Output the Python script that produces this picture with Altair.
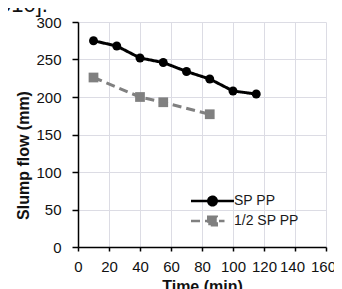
import altair as alt
import pandas as pd

# ---- data ----
series_names = ["SP PP", "1/2 SP PP"]
series_colors = ["#000000", "#808080"]

sp_time = [10, 25, 40, 55, 70, 85, 100, 115]
sp_flow = [275, 268, 252, 246, 234, 224, 208, 204]

half_time = [10, 40, 55, 85]
half_flow = [226, 200, 193, 177]

x_ticks = [0, 20, 40, 60, 80, 100, 120, 140, 160]
y_ticks = [0, 50, 100, 150, 200, 250, 300]

caption_fragment = ["010]."]

df = pd.DataFrame({
    "time": sp_time + half_time,
    "flow": sp_flow + half_flow,
    "series": [series_names[0]] * len(sp_time) + [series_names[1]] * len(half_time),
})

FONT = "Liberation Sans"
GRID = "#dcdce4"

x_enc = alt.X(
    "time:Q",
    scale=alt.Scale(domain=[0, 160], nice=False),
    axis=alt.Axis(
        values=x_ticks, title="Time (min)", tickSize=4, labelPadding=8,
        labelFontSize=15, labelFont=FONT, labelColor="#111111",
        labelOverlap=False, labelFlush=False,
        labelOffset={"condition": {"test": f"datum.value >= {x_ticks[-2]}", "value": -3}, "value": 0},
        titleFontSize=16, titleFont=FONT, titleFontWeight="bold", titleColor="#111111",
        titleBaseline="alphabetic", titleY=44,
        grid=True, gridColor=GRID, gridWidth=1,
        domainColor="#000000", domainWidth=1.5, tickColor="#000000", tickWidth=1.5,
    ),
)
y_enc = alt.Y(
    "flow:Q",
    scale=alt.Scale(domain=[0, 300], nice=False),
    axis=alt.Axis(
        values=y_ticks, title="Slump flow (mm)", tickSize=6, labelPadding=11,
        labelFontSize=15, labelFont=FONT, labelColor="#111111",
        labelOverlap=False, labelFlush=False,
        titleFontSize=16, titleFont=FONT, titleFontWeight="bold", titleColor="#111111",
        titleBaseline="alphabetic", titleX=-49.5, titleY=133,
        grid=True, gridColor=GRID, gridWidth=1,
        domainColor="#000000", domainWidth=1.5, tickColor="#000000", tickWidth=1.5,
    ),
)

circle_path = ("M-4.3,0L4.3,0M0.85,0A0.85,0.85 0 1 1 -0.85,0"
               "A0.85,0.85 0 1 1 0.85,0Z")
square_path = "M-4.3,0L2.4,0M-0.85,-0.85L0.85,-0.85L0.85,0.85L-0.85,0.85Z"

is_first = f"datum.value === '{series_names[0]}'"

legend = alt.Legend(
    title=None, orient="none", legendX=127.5, legendY=172, padding=0,
    symbolSize=100, labelOffset=14.5, rowPadding=0,
    labelFontSize=14, labelFont=FONT, labelColor="#1a1a1a",
    symbolType=alt.ExprRef(expr=f"{is_first} ? '{circle_path}' : '{square_path}'"),
    symbolFillColor=alt.ExprRef(expr=f"{is_first} ? '{series_colors[0]}' : '{series_colors[1]}'"),
    symbolStrokeColor=alt.ExprRef(expr=f"{is_first} ? '{series_colors[0]}' : '{series_colors[1]}'"),
    symbolDash=alt.ExprRef(expr=f"{is_first} ? [1, 0] : [9, 5]"),
    symbolStrokeWidth=2.5,
    symbolOpacity=1,
)

color_enc = alt.Color(
    "series:N", scale=alt.Scale(domain=series_names, range=series_colors), legend=legend
)

base = alt.Chart(df)

lines = base.mark_line(strokeWidth=3).encode(
    x=x_enc, y=y_enc, color=color_enc,
    strokeDash=alt.StrokeDash(
        "series:N", scale=alt.Scale(domain=series_names, range=[[1, 0], [9, 5]]), legend=None
    ),
)

circles = base.transform_filter(
    alt.datum.series == series_names[0]
).mark_point(filled=True, opacity=1, shape="circle", size=80).encode(
    x=x_enc, y=y_enc, color=color_enc,
)

squares = base.transform_filter(
    alt.datum.series == series_names[1]
).mark_point(filled=True, opacity=1, shape="square", size=95).encode(
    x=x_enc, y=y_enc, color=color_enc,
)

fragment = alt.Chart(pd.DataFrame({"t": caption_fragment})).mark_text(
    align="left", baseline="alphabetic", fontSize=22, font=FONT, color="#111111"
).encode(text="t:N", x=alt.value(-79), y=alt.value(-10))

chart = alt.layer(lines, circles, squares, fragment).properties(
    width=248, height=225,
    autosize=alt.AutoSizeParams(type="none"),
    padding={"left": 70, "top": 14, "right": 8, "bottom": 50},
).configure_view(strokeWidth=0)

chart.save("out.html", embed_options={"renderer": "svg", "actions": False})
